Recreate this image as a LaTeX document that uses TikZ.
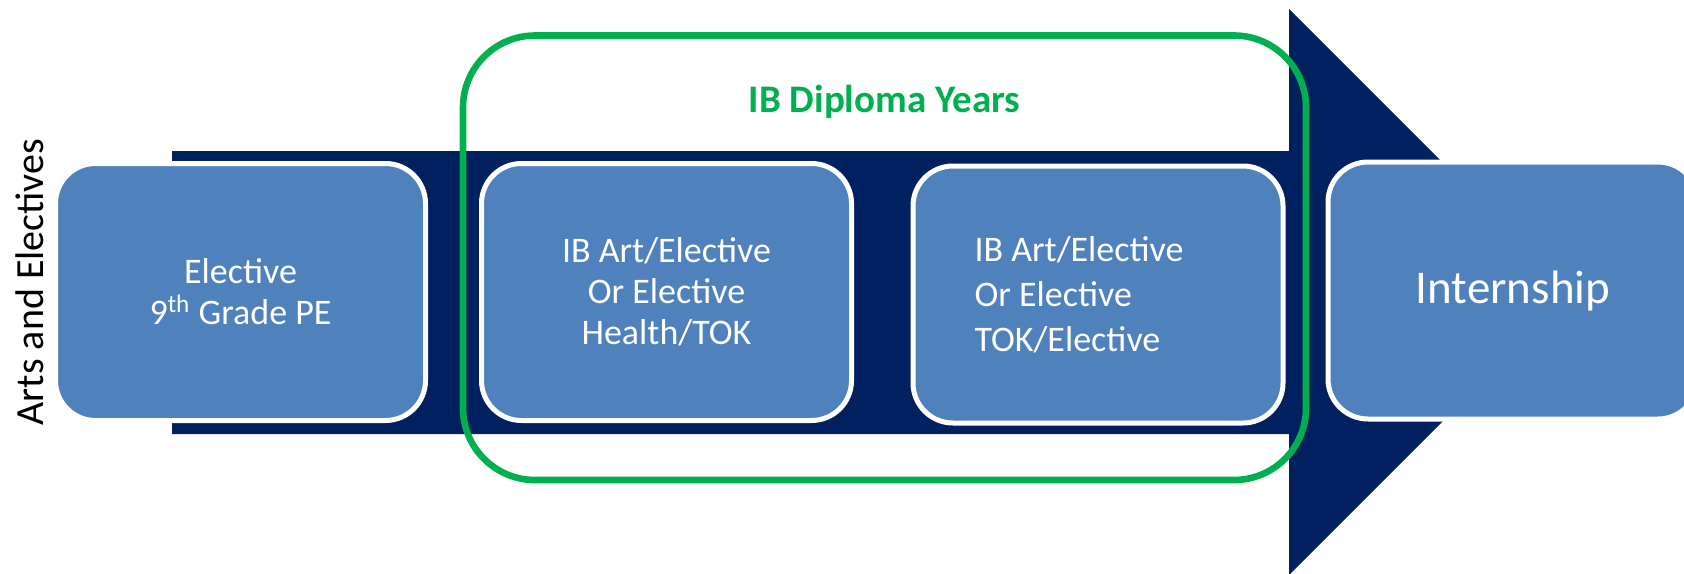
\documentclass[tikz,border=0pt]{standalone}
\usepackage{fontspec}
\setmainfont{Carlito}
\usetikzlibrary{positioning}
\definecolor{navyband}{HTML}{002060}
\definecolor{boxblue}{HTML}{4F81BD}
\definecolor{ibgreen}{HTML}{00B050}
\tikzset{
    course/.style={rectangle, rounded corners=20pt, fill=boxblue, draw=white, line width=2.5pt, outer sep=0pt,
        minimum width=185pt, minimum height=128.5pt, text=white, align=center, font=\fontsize{18}{20.5}\selectfont},
}

\begin{document}
\begin{tikzpicture}[x=0.5pt, y=-0.5pt]
    \useasboundingbox (0,0) rectangle (1684,573);
    % band with arrow head
    \fill[navyband] (172,151) -- (1289,151) -- (1289,9) -- (1572,292) -- (1289,575) -- (1289,434) -- (172,434) -- cycle;

    \node (elective) [course] at (240.5,292) {Elective\\9\textsuperscript{th} Grade PE};
    \node (year1) [course, right=28pt of elective] {IB Art/Elective\\Or Elective\\Health/TOK};
    \node (year2) [course, right=30.75pt of year1, yshift=-1.25pt, align=flush left, text width=123.5pt, font=\fontsize{18}{22.5}\selectfont] {IB Art/Elective\\Or Elective\\TOK/Elective};
    \node (intern) [course, right=22.5pt of year2, yshift=2pt, font=\fontsize{23.5}{28}\selectfont] {Internship};

    \draw[ibgreen, line width=3.3pt, rounded corners=36pt] (463,35.5) rectangle (1306,480);
    \node (ib) [anchor=base, text=ibgreen, font=\bfseries\fontsize{19.5}{23}\selectfont] at (884.5,112) {IB Diploma Years};
    \node (arts) [rotate=90, anchor=base, font=\fontsize{20}{24}\selectfont] at (43,282) {Arts and Electives};
\end{tikzpicture}
\end{document}
